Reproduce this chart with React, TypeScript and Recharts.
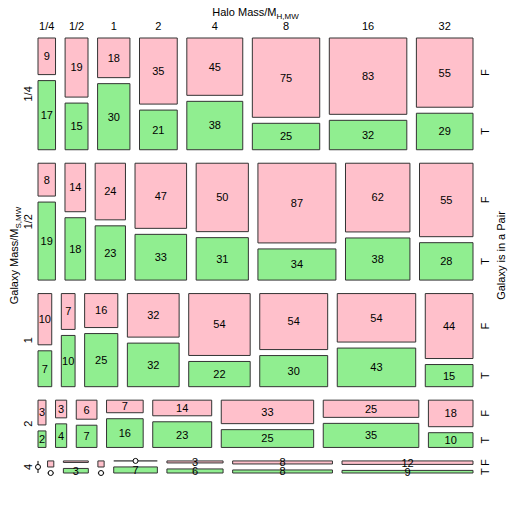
import React from 'react';
import {
  ComposedChart,
  XAxis,
  YAxis,
  Scatter,
  ReferenceArea,
  ReferenceLine,
  ReferenceDot,
} from 'recharts';

const haloMass = ['1/4', '1/2', '1', '2', '4', '8', '16', '32'];
const galaxyMass = ['1/4', '1/2', '1', '2', '4'];

// counts per galaxy-mass row (one value per halo-mass column)
const notInPair = [
  [9, 19, 18, 35, 45, 75, 83, 55],
  [8, 14, 24, 47, 50, 87, 62, 55],
  [10, 7, 16, 32, 54, 54, 54, 44],
  [3, 3, 6, 7, 14, 33, 25, 18],
  [0, 1, 1, 1, 0, 3, 8, 12],
];
const inPair = [
  [17, 15, 30, 21, 38, 25, 32, 29],
  [19, 18, 23, 33, 31, 34, 38, 28],
  [7, 10, 25, 32, 22, 30, 43, 15],
  [2, 4, 7, 16, 23, 25, 35, 10],
  [0, 0, 3, 0, 7, 6, 8, 9],
];

const ROW_GAP = 0.031;
const COL_GAP = 0.022;
const PAIR_GAP = 0.0138;

const PINK = '#FFC0CB';
const GREEN = '#90EE90';
const FONT = '"Liberation Sans", Arial, Helvetica, sans-serif';

type Tile = {
  key: string;
  level: 'F' | 'T';
  count: number;
  empty: boolean;
  x1: number;
  x2: number;
  y1: number;
  y2: number;
};

const sum = (a: number[]) => a.reduce((s, v) => s + v, 0);

// mosaic layout: rows split by galaxy mass, then halo mass, then pair status
const tiles: Tile[] = [];
const rowCenters: number[] = [];
const topTicks: number[] = [];
const pairTicks: number[] = [];
const pairTickLabels: string[] = [];

const rowTotals = galaxyMass.map((_, r) => sum(notInPair[r]) + sum(inPair[r]));
const grand = sum(rowTotals);
let yPos = 0;
galaxyMass.forEach((g, r) => {
  const h = ((1 - ROW_GAP * (galaxyMass.length - 1)) * rowTotals[r]) / grand;
  rowCenters.push(yPos + h / 2);
  let xPos = 0;
  haloMass.forEach((m, c) => {
    const f = notInPair[r][c];
    const t = inPair[r][c];
    const n = f + t;
    const w = ((1 - COL_GAP * (haloMass.length - 1)) * n) / rowTotals[r];
    const inner = h - PAIR_GAP;
    const fH = n ? (inner * f) / n : 0;
    tiles.push({ key: `${g}-${m}-F`, level: 'F', count: f, empty: n === 0, x1: xPos, x2: xPos + w, y1: yPos, y2: yPos + fH });
    tiles.push({ key: `${g}-${m}-T`, level: 'T', count: t, empty: n === 0, x1: xPos, x2: xPos + w, y1: n ? yPos + fH + PAIR_GAP : yPos, y2: yPos + h });
    if (r === 0) topTicks.push(xPos + w / 2);
    if (c === haloMass.length - 1) {
      pairTicks.push(yPos + fH / 2);
      pairTickLabels.push('F');
      pairTicks.push(yPos + fH + PAIR_GAP + (h - fH - PAIR_GAP) / 2);
      pairTickLabels.push('T');
    }
    xPos += w + COL_GAP;
  });
  yPos += h + ROW_GAP;
});

// tile corners, only to give the chart a data extent
const corners = tiles.flatMap((t) => [
  { x: t.x1, y: t.y1 },
  { x: t.x2, y: t.y2 },
]);

const nearest = (arr: number[], v: number) => {
  let best = 0;
  arr.forEach((a, i) => {
    if (Math.abs(a - v) < Math.abs(arr[best] - v)) best = i;
  });
  return best;
};

const HaloTick = ({ x, y, payload }: any) => (
  <text x={x} y={y} textAnchor="middle" fontSize={11} fill="#000">
    {haloMass[nearest(topTicks, payload.value)]}
  </text>
);

const GalaxyTick = ({ x, y, payload }: any) => (
  <text x={x} y={y} transform={`rotate(-90 ${x} ${y})`} textAnchor="middle" fontSize={11} fill="#000">
    {galaxyMass[nearest(rowCenters, payload.value)]}
  </text>
);

const PairTick = ({ x, y, payload }: any) => (
  <text x={x} y={y} transform={`rotate(-90 ${x} ${y})`} textAnchor="middle" fontSize={11} fill="#000">
    {pairTickLabels[nearest(pairTicks, payload.value)]}
  </text>
);

const HaloTitle = ({ viewBox }: any) => (
  <text x={viewBox.x + viewBox.width / 2} y={viewBox.y + 8} textAnchor="middle" fontSize={11} fill="#000">
    <tspan>Halo Mass/M</tspan>
    <tspan fontSize={8} dy={3}>H,MW</tspan>
  </text>
);

const GalaxyTitle = ({ viewBox }: any) => {
  const x = viewBox.x + 18;
  const y = viewBox.y + viewBox.height / 2;
  return (
    <text x={x} y={y} transform={`rotate(-90 ${x} ${y})`} textAnchor="middle" fontSize={11} fill="#000">
      <tspan>Galaxy Mass/M</tspan>
      <tspan fontSize={8} dy={3}>S,MW</tspan>
    </text>
  );
};

const PairTitle = ({ viewBox }: any) => {
  const x = viewBox.x + 32;
  const y = viewBox.y + viewBox.height / 2;
  return (
    <text x={x} y={y} transform={`rotate(-90 ${x} ${y})`} textAnchor="middle" fontSize={11} fill="#000">
      Galaxy is in a Pair
    </text>
  );
};

const App: React.FC = () => {
  return (
    <div style={{ position: 'absolute', left: 0, top: 0, width: 512, height: 512, background: '#fff', fontFamily: FONT }}>
      <ComposedChart width={512} height={512} data={corners} margin={{ top: 8, right: 0, bottom: 39, left: 0 }}>
        <XAxis
          xAxisId={0}
          dataKey="x"
          type="number"
          orientation="top"
          domain={[0, 1]}
          allowDataOverflow
          ticks={topTicks}
          interval={0}
          height={30}
          axisLine={false}
          tickLine={false}
          tickSize={0}
          tickMargin={8}
          tick={HaloTick}
          label={HaloTitle}
        />
        <YAxis
          yAxisId={0}
          dataKey="y"
          type="number"
          orientation="left"
          reversed
          domain={[0, 1]}
          allowDataOverflow
          ticks={rowCenters}
          interval={0}
          width={38}
          axisLine={false}
          tickLine={false}
          tickSize={0}
          tickMargin={6}
          tick={GalaxyTick}
          label={GalaxyTitle}
        />
        <YAxis
          yAxisId="pair"
          dataKey="y"
          type="number"
          orientation="right"
          reversed
          domain={[0, 1]}
          allowDataOverflow
          ticks={pairTicks}
          interval={0}
          width={39}
          axisLine={false}
          tickLine={false}
          tickSize={0}
          tickMargin={16}
          tick={PairTick}
          label={PairTitle}
        />
        <Scatter xAxisId={0} yAxisId={0} data={corners} dataKey="y" shape={() => <g />} isAnimationActive={false} />
        {tiles.map((tile) => {
          if (tile.empty) {
            // empty column: T tile spans the whole row height
            if (tile.level === 'F') return null;
            const cy = (tile.y1 + tile.y2) / 2;
            return (
              <React.Fragment key={tile.key}>
                <ReferenceLine
                  segment={[{ x: tile.x1, y: tile.y1 }, { x: tile.x1, y: tile.y2 }]}
                  stroke="#000"
                  ifOverflow="visible"
                />
                <ReferenceDot x={tile.x1} y={cy} r={2.5} fill="#fff" stroke="#000" ifOverflow="visible" />
              </React.Fragment>
            );
          }
          if (tile.count === 0) {
            const cx = (tile.x1 + tile.x2) / 2;
            return (
              <React.Fragment key={tile.key}>
                <ReferenceLine
                  segment={[{ x: tile.x1, y: tile.y1 }, { x: tile.x2, y: tile.y1 }]}
                  stroke="#000"
                  ifOverflow="visible"
                />
                <ReferenceDot x={cx} y={tile.y1} r={2.5} fill="#fff" stroke="#000" ifOverflow="visible" />
              </React.Fragment>
            );
          }
          return (
            <ReferenceArea
              key={tile.key}
              x1={tile.x1}
              x2={tile.x2}
              y1={tile.y1}
              y2={tile.y2}
              fill={tile.level === 'F' ? PINK : GREEN}
              fillOpacity={1}
              stroke="#333"
              strokeWidth={1}
              ifOverflow="visible"
              label={tile.count > 1 ? { value: tile.count, position: 'center', fontSize: 11, fill: '#000' } : undefined}
            />
          );
        })}
      </ComposedChart>
    </div>
  );
};

export default App;
